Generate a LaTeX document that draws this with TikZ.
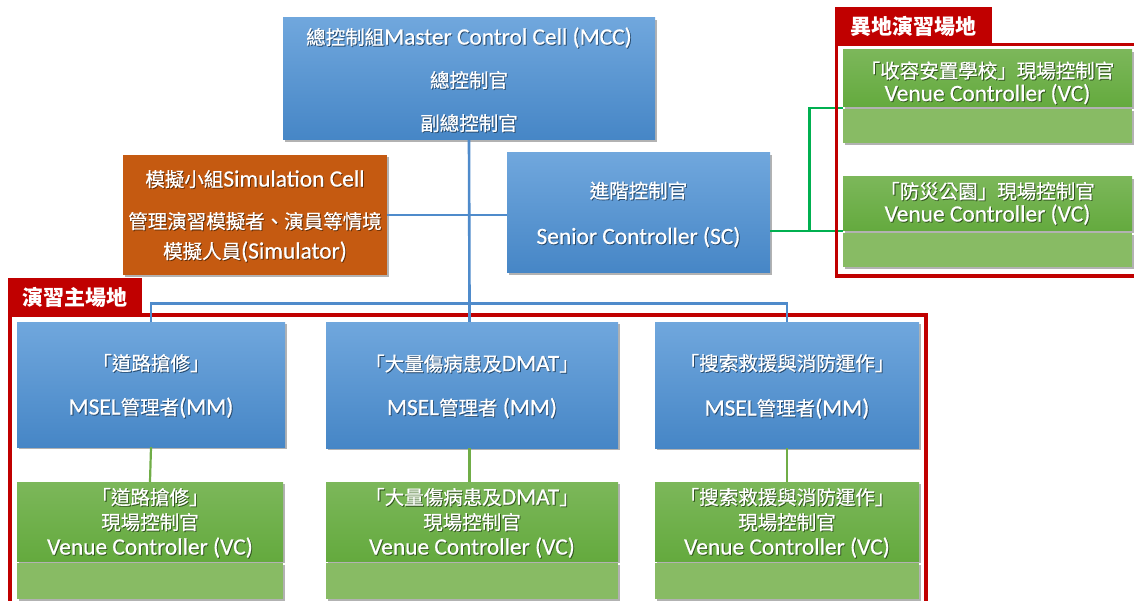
\documentclass[tikz,border=0pt]{standalone}
\usepackage{fontspec}
\setmainfont{Carlito}[Scale=1.2, FakeBold=0.6]
\newfontfamily\cjk{Noto Sans CJK TC}[FakeBold=0.6]
\newfontfamily\cjklabel{Noto Sans CJK TC}
\usetikzlibrary{shadows}

\definecolor{cellblueA}{HTML}{70A7DD}
\definecolor{cellblueB}{HTML}{4686C6}
\definecolor{simorange}{HTML}{C55A11}
\definecolor{vcgreenA}{HTML}{7CB75A}
\definecolor{vcgreenB}{HTML}{64AA3E}
\definecolor{vcgreenC}{HTML}{88BB64}
\definecolor{zonered}{HTML}{C00000}
\definecolor{linkblue}{HTML}{4F8BCB}
\definecolor{linkgreen}{HTML}{00B050}
\definecolor{stemgreen}{HTML}{70AD47}

\newcommand\zh[1]{{\cjk #1}}
% centred lines of white text with a dark copy slightly offset beneath,
% lowered a little inside the box without changing its size
\newcommand\linesof[1]{\begin{tabular}{@{}c@{}}#1\end{tabular}}
\newcommand\celltext[2][3.5pt]{\leavevmode\raisebox{-#1}[\height][\depth]{%
  \rlap{\kern0.9pt\raisebox{-0.9pt}{\color{\txtshadow}\linesof{#2}}}%
  \linesof{#2}}}

\tikzset{
  cellbox/.style={rectangle, inner sep=0pt, text=white,
    font=\fontsize{19.5}{25}\selectfont,
    drop shadow={shadow xshift=1.5pt, shadow yshift=-2pt, opacity=0.3, fill=black}},
  bluebox/.style={cellbox, top color=cellblueA, bottom color=cellblueB,
    execute at begin node={\def\txtshadow{cellblueB!55!black}}},
  simbox/.style={cellbox, fill=simorange,
    execute at begin node={\def\txtshadow{simorange!50!black}}},
  vcbox/.style={cellbox, top color=vcgreenA, bottom color=vcgreenB,
    execute at begin node={\def\txtshadow{vcgreenB!50!black}}},
  vcstrip/.style={cellbox, fill=vcgreenC},
  zonelabel/.style={rectangle, inner sep=0pt, fill=zonered, text=white,
    font=\fontsize{21}{25}\selectfont\cjklabel\bfseries},
  zoneframe/.style={draw=zonered, line width=3.2pt},
  link/.style={draw=linkblue, line width=2.6pt},
  hub/.style={draw=linkgreen, line width=2.6pt},
  stem/.style={draw=stemgreen, line width=2.2pt},
}

\begin{document}
\begin{tikzpicture}[x=1pt, y=-1pt]
\useasboundingbox (0,0) rectangle (1134,601);
\clip (0,0) rectangle (1134,601);

% green hub from the senior controller to the off-site venues
\coordinate (hubx) at (809.5,0);
\node[vcbox, minimum width=289pt, minimum height=57pt] (vcr1) at (987.5,78.5)
  {\celltext[6.5pt]{\zh{「收容安置學校」現場控制官}\\[-2pt]Venue Controller (VC)}};
\node[vcbox, minimum width=289pt, minimum height=54pt] (vcr2) at (987.5,204)
  {\celltext[1.5pt]{\zh{「防災公園」現場控制官}\\[-2pt]Venue Controller (VC)}};
\node[bluebox, minimum width=263pt, minimum height=120pt] (sc) at (638.5,213)
  {\celltext{\zh{進階控制官}\\[21pt]Senior Controller (SC)}};
\draw[hub] (sc.east |- vcr2.south west) -- (vcr2.south west);
\draw[hub] ([yshift=-1pt]vcr1.south west) -| (hubx |- vcr2.south west);

% venue frames with their tabs
\draw[zoneframe] (836.5,44.5) rectangle (1150,276);
\node[zonelabel, minimum width=157pt, minimum height=38pt] (offsite) at (913.5,26)
  {異地演習場地};
\draw[zoneframe] (10,315) rectangle (926,630);
\node[zonelabel, minimum width=134pt, minimum height=37pt] (mainsite) at (75,297)
  {演習主場地};

% cells
\node[bluebox, minimum width=372pt, minimum height=122pt] (mcc) at (469,79)
  {\celltext[4pt]{\zh{總控制組}Master Control Cell (MCC)\\[18pt]\zh{總控制官}\\[18pt]\zh{副總控制官}}};
\node[simbox, minimum width=264pt, minimum height=120pt] (sim) at (255,215)
  {\celltext[3pt]{\zh{模擬小組}Simulation Cell\\[17pt]\zh{管理演習模擬者、演員等情境}\\[5pt]\zh{模擬人員}(Simulator)}};

\node[bluebox, minimum width=268pt, minimum height=125pt] (mm1) at (151,384.5)
  {\celltext{\zh{「道路搶修」}\\[19pt]MSEL\zh{管理者}(MM)}};
\node[bluebox, minimum width=292pt, minimum height=126pt] (mm2) at (472,385)
  {\celltext{\zh{「大量傷病患及}DMAT\zh{」}\\[19pt]MSEL\zh{管理者} (MM)}};
\node[bluebox, minimum width=264pt, minimum height=126pt] (mm3) at (787,385)
  {\celltext{\zh{「搜索救援與消防運作」}\\[20pt]MSEL\zh{管理者}(MM)}};

\node[vcbox, minimum width=266pt, minimum height=79pt] (vc1) at (150,521.5)
  {\celltext{\zh{「道路搶修」}\\\zh{現場控制官}\\Venue Controller (VC)}};
\node[vcbox, minimum width=292pt, minimum height=79pt] (vc2) at (472,521.5)
  {\celltext{\zh{「大量傷病患及}DMAT\zh{」}\\\zh{現場控制官}\\Venue Controller (VC)}};
\node[vcbox, minimum width=264pt, minimum height=79pt] (vc3) at (787,521.5)
  {\celltext{\zh{「搜索救援與消防運作」}\\\zh{現場控制官}\\Venue Controller (VC)}};

% lighter lower strips of the venue controller boxes
\node[vcstrip, minimum width=266pt, minimum height=36pt, anchor=north] (vc1s) at ([yshift=-1.5pt]vc1.south) {};
\node[vcstrip, minimum width=292pt, minimum height=36pt, anchor=north] (vc2s) at ([yshift=-1.5pt]vc2.south) {};
\node[vcstrip, minimum width=264pt, minimum height=36pt, anchor=north] (vc3s) at ([yshift=-1.5pt]vc3.south) {};
\node[vcstrip, minimum width=289pt, minimum height=34pt, anchor=north] (vcr1s) at ([yshift=-1.5pt]vcr1.south) {};
\node[vcstrip, minimum width=289pt, minimum height=34pt, anchor=north] (vcr2s) at ([yshift=-1.5pt]vcr2.south) {};

% blue reporting lines
\coordinate (bus) at (469.5,303.5);
\draw[link] (mcc.south) -- (bus);
\draw[link] (mm1.north) |- (bus) -| (mm3.north);
\draw[link] (bus) -- (bus |- mm2.north);
\draw[link] (sim.east) -- (sim.east -| sc.west);

% green links from the field managers to their venue controllers
\draw[stem] (mm1.south) -- (vc1.north);
\draw[stem] (mm2.south -| bus) -- (vc2.north -| bus);
\draw[stem] (mm3.south) -- (vc3.north);
\end{tikzpicture}
\end{document}
